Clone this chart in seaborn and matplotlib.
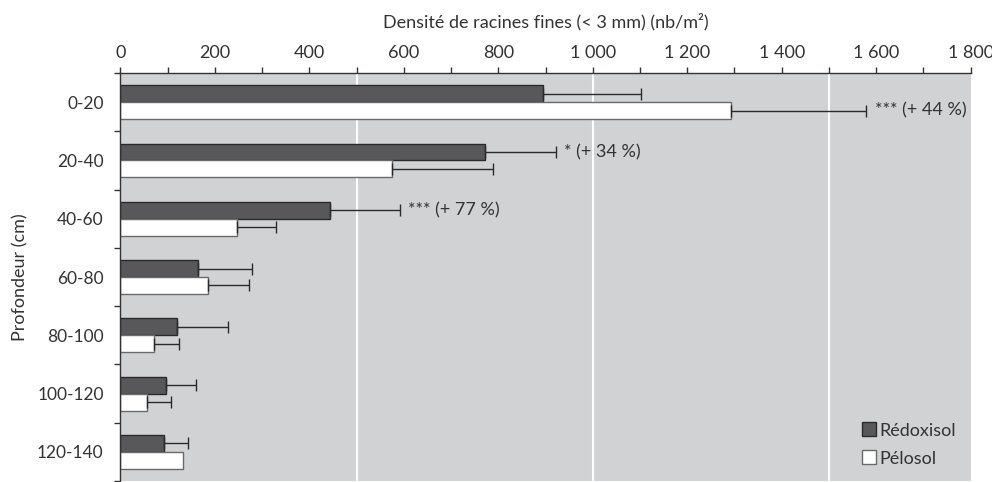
import numpy as np
import pandas as pd
import matplotlib
matplotlib.use("Agg")
import matplotlib.pyplot as plt
from matplotlib.ticker import FixedLocator, MultipleLocator
import seaborn as sns

# ---- data ----
depths = ["0-20", "20-40", "40-60", "60-80", "80-100", "100-120", "120-140"]
redoxisol = [895, 772, 443, 165, 119, 97, 93]
redoxisol_err = [207, 150, 149, 113, 108, 63, 51]
pelosol = [1292, 576, 247, 185, 72, 56, 133]
pelosol_err = [287, 212, 83, 87, 52, 52, 0]
series_names = ["Rédoxisol", "Pélosol"]
annotations = ["*** (+ 44 %)", "* (+ 34 %)", "*** (+ 77 %)", "", "", "", ""]
xtick_values = [0, 200, 400, 600, 800, 1000, 1200, 1400, 1600, 1800]
xtick_labels = ["0", "200", "400", "600", "800", "1 000", "1 200", "1 400", "1 600", "1 800"]
grid_values = [500, 1000, 1500]
title = "Densité de racines fines (< 3 mm) (nb/m²)"
ylabel = "Profondeur (cm)"

df = pd.DataFrame({
    "depth": depths * 2,
    "sol": [series_names[0]] * len(depths) + [series_names[1]] * len(depths),
    "value": redoxisol + pelosol,
})

plt.rcParams["font.family"] = ["Lato", "DejaVu Sans"]
text_col = "#333333"

fig = plt.figure(figsize=(9.92, 4.82), dpi=100)
ax = fig.add_axes([0.1213, 0.002, 0.8572, 0.8465])
ax.set_facecolor("#d1d2d4")

for g in grid_values:
    ax.axvline(g, color="white", lw=1.5, zorder=0.5)

sns.barplot(data=df, x="value", y="depth", hue="sol", hue_order=series_names,
            order=depths, orient="h", width=0.58, errorbar=None,
            palette={series_names[0]: "#58585a", series_names[1]: "#ffffff"},
            ax=ax, zorder=2)

edge_cols = ["#2a2a2a", "#6a6a6a"]
errs = [redoxisol_err, pelosol_err]
bar_ys = []
for cont, ec, err in zip(ax.containers, edge_cols, errs):
    ys = []
    for bar in cont:
        bar.set_edgecolor(ec)
        bar.set_linewidth(1.0)
        ys.append(bar.get_y() + bar.get_height() / 2)
    ys = np.array(ys)
    bar_ys.append(ys)
    vals = np.array(cont.datavalues)
    err = np.array(err, dtype=float)
    m = err > 0
    ax.errorbar(vals[m], ys[m], xerr=[np.zeros(m.sum()), err[m]], fmt="none",
                ecolor="#2a2a2a", elinewidth=1.0, capsize=4.5, capthick=1.0, zorder=3)

# significance annotations next to the longest error bar of each group
tops_r = np.array(redoxisol) + np.array(redoxisol_err)
tops_p = np.array(pelosol) + np.array(pelosol_err)
for i, txt in enumerate(annotations):
    if not txt:
        continue
    if tops_p[i] > tops_r[i]:
        x, y = tops_p[i], bar_ys[1][i]
    else:
        x, y = tops_r[i], bar_ys[0][i]
    ax.annotate(txt, (x, y), xytext=(6, 0), textcoords="offset points",
                va="center", ha="left", fontsize=13, color=text_col, zorder=4)

ax.set_xlim(0, 1800)
ax.set_ylim(len(depths) - 0.5, -0.5)

ax.xaxis.tick_top()
ax.xaxis.set_label_position("top")
ax.set_xticks(xtick_values)
ax.set_xticklabels(xtick_labels)
ax.xaxis.set_minor_locator(MultipleLocator(100))
ax.tick_params(axis="x", which="both", direction="out", length=4, width=1,
               color="#333333", labelsize=13, labelcolor=text_col, pad=5)

ax.set_yticks(range(len(depths)))
ax.set_yticklabels(depths)
ax.yaxis.set_minor_locator(FixedLocator(np.arange(-0.5, len(depths), 1.0)))
ax.tick_params(axis="y", which="major", length=0, labelsize=12.5, labelcolor=text_col, pad=12)
ax.tick_params(axis="y", which="minor", length=4, width=1, color="#333333")

for s in ["right", "bottom"]:
    ax.spines[s].set_visible(False)
for s in ["top", "left"]:
    ax.spines[s].set_color("#333333")
    ax.spines[s].set_linewidth(1.0)

ax.set_xlabel(title, fontsize=13, color=text_col, labelpad=12)
ax.set_ylabel(ylabel, fontsize=13, color=text_col, labelpad=6)

handles, labels = ax.get_legend_handles_labels()
for h, ec in zip(handles, edge_cols):
    h.set_edgecolor(ec)
leg = ax.legend(handles, labels, loc="lower right", bbox_to_anchor=(1.0, 0.0),
                frameon=False, fontsize=13, handlelength=0.8, handleheight=0.8,
                handletextpad=0.2, labelspacing=0.65, borderaxespad=0.4)
for t in leg.get_texts():
    t.set_color(text_col)

fig.savefig("out.png", dpi=100)
